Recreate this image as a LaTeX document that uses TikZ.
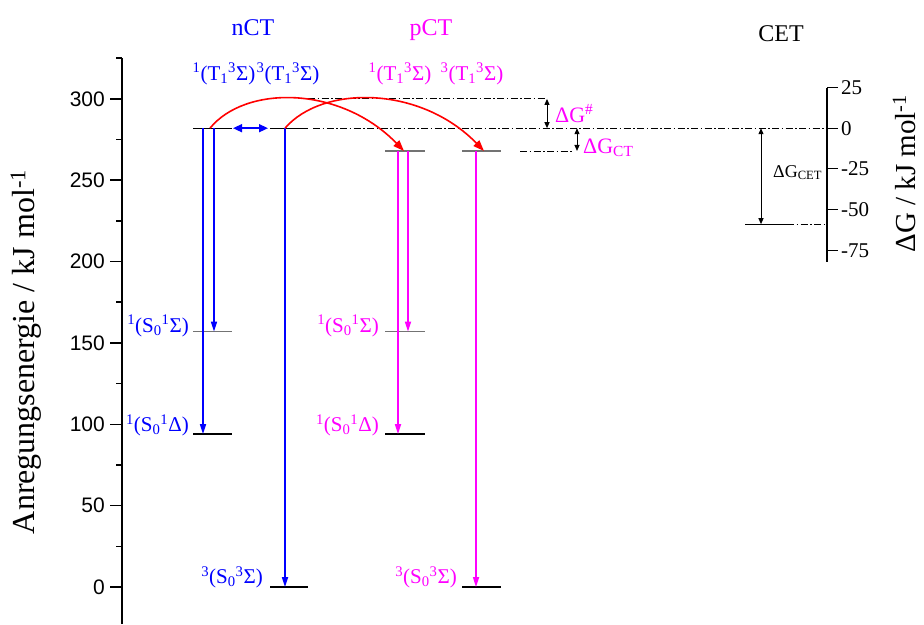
\documentclass[tikz,border=0pt]{standalone}
\usepackage{fontspec}
\setmainfont{Liberation Serif}
\newfontfamily\axisfont{Liberation Sans}
\usetikzlibrary{positioning, arrows.meta}
\definecolor{ncol}{RGB}{0,0,255}
\definecolor{pcol}{RGB}{255,0,255}
\definecolor{rcol}{RGB}{255,0,0}
\newcommand{\hoch}[1]{\textsuperscript{#1}}
\newcommand{\tief}[1]{\textsubscript{#1}}

\begin{document}
\begin{tikzpicture}[
  x=1pt, y=1.627pt,
  every node/.style={inner sep=0pt, font=\fontsize{21}{25}\selectfont},
  lvl/.style={line width=1.3pt, black},
  lvlg/.style={line width=1.3pt, black!55},
  nct/.style={ncol, line width=1.6pt, -{Triangle[length=10pt,width=6pt]}},
  pct/.style={pcol, line width=1.6pt, -{Triangle[length=10pt,width=6pt]}},
  ett/.style={rcol, line width=1.6pt, -{Triangle[length=11pt,width=8pt]}},
  dd/.style={black, line width=0.9pt, dash pattern=on 7pt off 2.5pt on 1.5pt off 2.5pt},
  dg/.style={black, line width=1pt, {Triangle[length=6pt,width=5pt]}-{Triangle[length=6pt,width=5pt]}},
  axtick/.style={line width=1.6pt}
]
\useasboundingbox (0,-22.74) rectangle (924,360.8);

% left axis: Anregungsenergie
\draw[line width=1.8pt] (122,-22.74) -- (122,325);
\foreach \e in {0,50,...,300} {
  \draw[axtick] (110,\e) -- (122,\e);
  \node[anchor=east, font=\axisfont\fontsize{21}{25}\selectfont] (t\e) at (105,\e) {\e};
}
\foreach \e in {25,75,...,325} \draw[axtick] (116,\e) -- (122,\e);
\node[rotate=90, font=\fontsize{32}{36}\selectfont] (ylab) at (26,144.5) {Anregungsenergie / kJ mol\hoch{-1}};

% right axis: Delta G, zero at the nCT level
\begin{scope}[shift={(0,282)}]
\draw[line width=1.2pt] (827,-82.2) -- (827,25);
\foreach \g [count=\i] in {25,0,-25,-50,-75} {
  \draw[line width=1.2pt] (827,\g) -- (838,\g);
  \node[anchor=west] (dg\i) at (841,\g) {\g};
}
\end{scope}
\node[rotate=90, font=\fontsize{29}{33}\selectfont] (glab) at (904,254) {ΔG / kJ mol\hoch{-1}};

% energy levels
\def\level#1#2#3#4#5{%
  \draw[#5] (#2,#4) coordinate (#1) -- (#3,#4);
}
\level{nT}{193}{232}{282}{lvl}
\level{nT3}{270}{308}{282}{lvl}
\level{nS}{193}{232}{157}{lvlg}
\level{nD}{193}{232}{94}{lvl}
\level{nG}{270}{308}{0}{lvl}
\level{pT}{385}{425}{268}{lvlg}
\level{pT3}{462}{501}{268}{lvlg}
\level{pS}{385}{425}{157}{lvlg}
\level{pD}{385}{425}{94}{lvl}
\level{pG}{462}{501}{0}{lvl}
\level{cet}{745}{787}{223}{lvl}
\coordinate (ts) at (308,300);

% reference lines
\draw[dd] (ts) -- (545,0 |- ts);
\draw[dd] (313,0 |- nT) -- (827,0 |- nT);
\draw[dd] (520,0 |- pT) -- (572,0 |- pT);
\draw[dd] (787,0 |- cet) -- (827,0 |- cet);

% transitions
\draw[nct] (203,0 |- nT) -- (203,0 |- nD);
\draw[nct] (214,0 |- nT) -- (214,0 |- nS);
\draw[nct] (285,0 |- nT3) -- (285,0 |- nG);
\draw[pct] (398,0 |- pT) -- (398,0 |- pD);
\draw[pct] (408,0 |- pT) -- (408,0 |- pS);
\draw[pct] (476,0 |- pT3) -- (476,0 |- pG);
\draw[ncol, line width=1.6pt, {Triangle[length=9pt,width=8pt]}-{Triangle[length=9pt,width=8pt]}]
  (233,0 |- nT) -- (268,0 |- nT3);
\draw[ett] (210,0 |- nT) .. controls (245,308.5) and (340,308.5) .. (404,0 |- pT);
\draw[ett] (285,0 |- nT3) .. controls (322,308.5) and (420,308.5) .. (484,0 |- pT3);

% free energies
\draw[dg] (547,0 |- ts) -- (547,0 |- nT);
\draw[dg] (577,0 |- nT) -- (577,0 |- pT);
\draw[dg] (761,0 |- nT) -- (761,0 |- cet);
\node[anchor=base west, pcol, font=\fontsize{22}{26}\selectfont] (dgts) at (555,285.8) {ΔG\hoch{\#}};
\node[anchor=base west, pcol, font=\fontsize{22}{26}\selectfont] (dgct) at (583,266.7) {ΔG\tief{CT}};
\node[anchor=base west, font=\fontsize{18}{22}\selectfont] (dgcet) at (773,252) {ΔG\tief{CET}};

% titles
\node[anchor=base, ncol, font=\fontsize{24}{28}\selectfont] (nct) at (253,338.7) {nCT};
\node[anchor=base, pcol, font=\fontsize{24}{28}\selectfont] (pct) at (431,338.7) {pCT};
\node[anchor=base, font=\fontsize{24}{28}\selectfont] (cetl) at (781,335) {CET};

% state labels
\node[anchor=base, ncol] (lnT) at (224,311.6) {\hoch{1}(T\tief{1}\hoch{3}Σ)};
\node[anchor=base, ncol] (lnT3) at (288,311.6) {\hoch{3}(T\tief{1}\hoch{3}Σ)};
\node[anchor=base, pcol] (lpT) at (400,311.6) {\hoch{1}(T\tief{1}\hoch{3}Σ)};
\node[anchor=base, pcol] (lpT3) at (472,311.6) {\hoch{3}(T\tief{1}\hoch{3}Σ)};
\node[anchor=base east, ncol] (lnS) at (189,156.5) {\hoch{1}(S\tief{0}\hoch{1}Σ)};
\node[anchor=base east, ncol] (lnD) at (189,95.5) {\hoch{1}(S\tief{0}\hoch{1}Δ)};
\node[anchor=base east, ncol] (lnG) at (263,2) {\hoch{3}(S\tief{0}\hoch{3}Σ)};
\node[anchor=base east, pcol] (lpS) at (379,156.5) {\hoch{1}(S\tief{0}\hoch{1}Σ)};
\node[anchor=base east, pcol] (lpD) at (379,95.5) {\hoch{1}(S\tief{0}\hoch{1}Δ)};
\node[anchor=base east, pcol] (lpG) at (457,2) {\hoch{3}(S\tief{0}\hoch{3}Σ)};
\end{tikzpicture}
\end{document}
